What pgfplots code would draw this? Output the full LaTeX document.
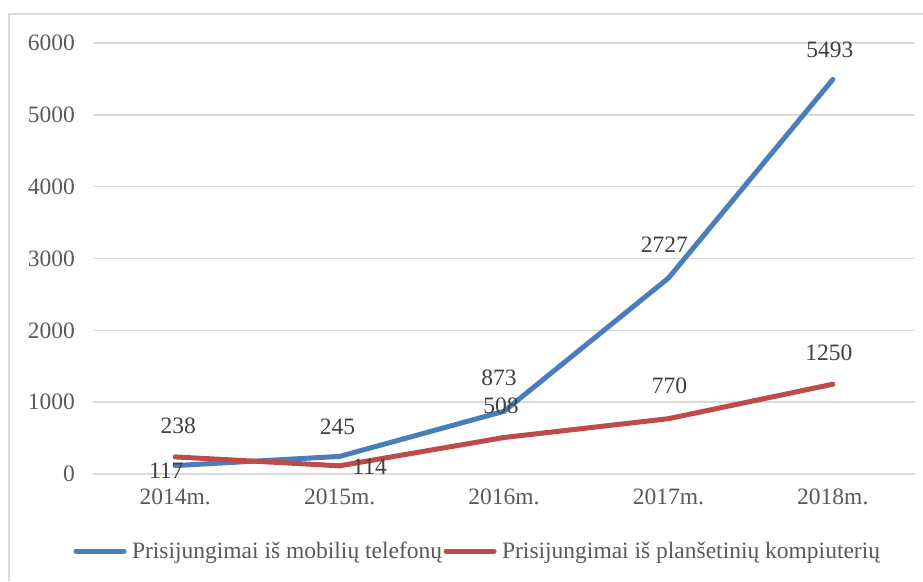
\documentclass[border=0pt]{standalone}
\usepackage{pgfplots}
\pgfplotsset{compat=1.18}
\usepackage{pgfplotstable}
\usepackage{fontspec}
\setmainfont{Liberation Serif}
\definecolor{cblue}{RGB}{74,126,187}
\definecolor{cred}{RGB}{190,75,72}
\definecolor{gridc}{RGB}{217,217,217}
\definecolor{txt}{RGB}{89,89,89}
\definecolor{lab}{RGB}{64,64,64}

\pgfplotstableread{
x y dx dy lab
0 117 -9 -5 117
1 245 -2 30 245
2 873 -5 33 873
3 2727 -4 33 2727
4 5493 -3 30 5493
}\mobile
\pgfplotstableread{
x y dx dy lab
0 238 3 31 238
1 114 30 -1 114
2 508 -3 32 508
3 770 1 33 770
4 1250 -4 31 1250
}\tablet

\begin{document}
\begin{tikzpicture}
\useasboundingbox (0pt,0pt) rectangle (923pt,581pt);
\draw[gridc, line width=1.5pt] (9pt,0pt) -- (9pt,567pt) -- (923pt,567pt);
\begin{axis}[
  at={(93pt,107pt)}, anchor=south west,
  scale only axis, width=822pt, height=431pt,
  xmin=-0.5, xmax=4.5, ymin=0, ymax=6000,
  xtick={0,1,2,3,4},
  xticklabels={2014m.,2015m.,2016m.,2017m.,2018m.},
  ytick={0,1000,2000,3000,4000,5000,6000},
  ymajorgrids, grid style={gridc, line width=1.4pt},
  axis line style={draw=none},
  major tick length=0pt, tick style={draw=none},
  scaled y ticks=false,
  /pgf/number format/1000 sep={},
  /pgf/number format/assume math mode=true,
  ticklabel style={font=\fontsize{23.5}{28}\selectfont, text=txt},
  yticklabel style={anchor=east, inner sep=0pt, xshift=-18pt},
  xticklabel style={anchor=center, inner sep=0pt, yshift=-23pt},
  clip=false,
  legend columns=2,
  legend style={at={(0.4678,-0.1787)}, anchor=center, draw=none,
    font=\fontsize{23.5}{28}\selectfont, text=txt,
    nodes={inner xsep=1.5pt},
    /tikz/every odd column/.append style={column sep=4pt}},
  legend image code/.code={\draw[#1, line cap=round] (2.5pt,0pt) -- (50.5pt,0pt);},
  every axis plot/.append style={line width=5pt, line join=round, line cap=round, no markers},
  nodes near coords={\pgfplotspointmeta},
  point meta=explicit symbolic,
]
\addplot[cblue,
  visualization depends on={\thisrow{dx}\as\myDX},
  visualization depends on={\thisrow{dy}\as\myDY},
  every node near coord/.append style={anchor=center, text=lab, font=\fontsize{23.5}{28}\selectfont, xshift=\myDX pt, yshift=\myDY pt}]
  table[x=x, y=y, meta=lab] {\mobile};
\addlegendentry{Prisijungimai iš mobilių telefonų}
\addplot[cred,
  visualization depends on={\thisrow{dx}\as\myDX},
  visualization depends on={\thisrow{dy}\as\myDY},
  every node near coord/.append style={anchor=center, text=lab, font=\fontsize{23.5}{28}\selectfont, xshift=\myDX pt, yshift=\myDY pt}]
  table[x=x, y=y, meta=lab] {\tablet};
\addlegendentry{Prisijungimai iš planšetinių kompiuterių}
\end{axis}
\end{tikzpicture}
\end{document}
